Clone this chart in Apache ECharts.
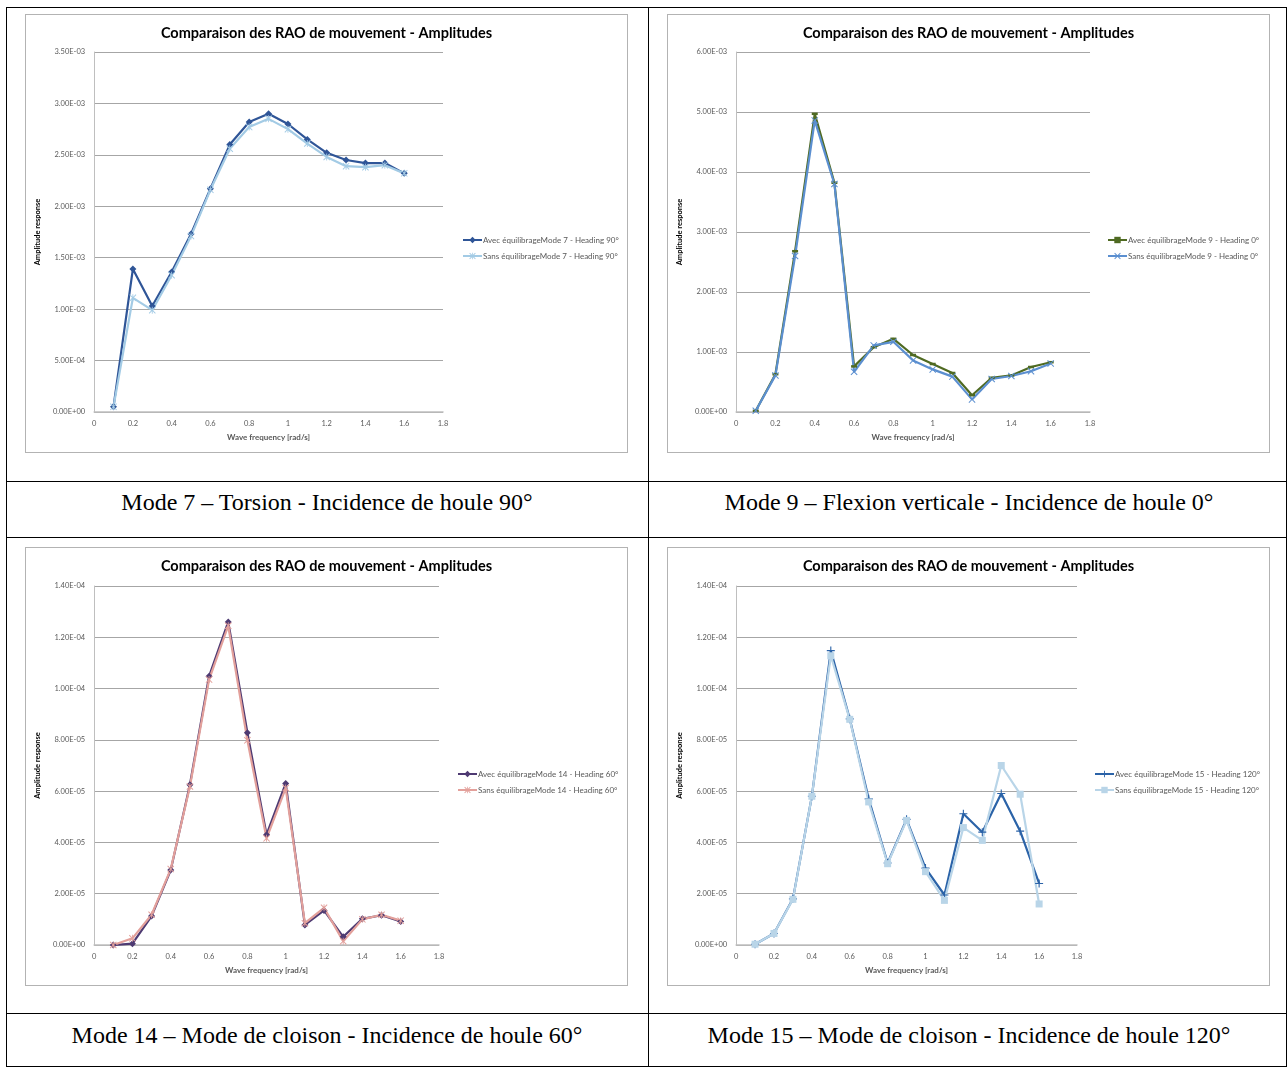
<!DOCTYPE html>
<html>
<head>
<meta charset="utf-8">
<script src="https://cdn.jsdelivr.net/npm/echarts@6/dist/echarts.min.js"></script>
<style>
  html, body { margin: 0; padding: 0; background: #fff; }
  #page { position: relative; width: 1288px; height: 1068px; }
  .ln { position: absolute; background: #000; }
  .box { position: absolute; width: 603px; height: 439px; border: 1px solid #b3b3b3; box-sizing: border-box; }
  .cap { position: absolute; width: 642px; text-align: center; font-family: "Liberation Serif", serif; font-size: 24px; color: #000; }
</style>
</head>
<body>
<div id="page">
  <div class="ln" style="left:6px;top:7px;width:1281px;height:1px"></div>
  <div class="ln" style="left:6px;top:481px;width:1281px;height:1px"></div>
  <div class="ln" style="left:6px;top:537px;width:1281px;height:1px"></div>
  <div class="ln" style="left:6px;top:1013px;width:1281px;height:1px"></div>
  <div class="ln" style="left:6px;top:1066px;width:1281px;height:1px"></div>
  <div class="ln" style="left:6px;top:7px;width:1px;height:1060px"></div>
  <div class="ln" style="left:648px;top:7px;width:1px;height:1060px"></div>
  <div class="ln" style="left:1286px;top:7px;width:1px;height:1060px"></div>

  <div id="c1" class="box" style="left:25px;top:14px"></div>
  <div id="c2" class="box" style="left:667px;top:14px"></div>
  <div id="c3" class="box" style="left:25px;top:547px"></div>
  <div id="c4" class="box" style="left:667px;top:547px"></div>

  <div class="cap" style="left:6px;top:489px">Mode 7 – Torsion - Incidence de houle 90°</div>
  <div class="cap" style="left:648px;top:489px">Mode 9 – Flexion verticale - Incidence de houle 0°</div>
  <div class="cap" style="left:6px;top:1022px">Mode 14 – Mode de cloison - Incidence de houle 60°</div>
  <div class="cap" style="left:648px;top:1022px">Mode 15 – Mode de cloison - Incidence de houle 120°</div>
</div>
<script>
// wave frequencies [rad/s]
const freq = [0.1, 0.2, 0.3, 0.4, 0.5, 0.6, 0.7, 0.8, 0.9, 1.0, 1.1, 1.2, 1.3, 1.4, 1.5, 1.6];

// Mode 7 - heading 90
const mode7Avec = [0.05e-3, 1.39e-3, 1.03e-3, 1.36e-3, 1.73e-3, 2.17e-3, 2.60e-3, 2.82e-3, 2.90e-3, 2.80e-3, 2.65e-3, 2.52e-3, 2.45e-3, 2.42e-3, 2.42e-3, 2.32e-3];
const mode7Sans = [0.05e-3, 1.11e-3, 0.99e-3, 1.33e-3, 1.71e-3, 2.16e-3, 2.56e-3, 2.77e-3, 2.85e-3, 2.75e-3, 2.61e-3, 2.48e-3, 2.39e-3, 2.38e-3, 2.40e-3, 2.32e-3];

// Mode 9 - heading 0
const mode9Avec = [0.02e-3, 0.63e-3, 2.68e-3, 4.97e-3, 3.82e-3, 0.76e-3, 1.08e-3, 1.22e-3, 0.95e-3, 0.80e-3, 0.65e-3, 0.28e-3, 0.57e-3, 0.61e-3, 0.75e-3, 0.83e-3];
const mode9Sans = [0.02e-3, 0.61e-3, 2.60e-3, 4.86e-3, 3.80e-3, 0.67e-3, 1.11e-3, 1.17e-3, 0.86e-3, 0.71e-3, 0.59e-3, 0.21e-3, 0.55e-3, 0.60e-3, 0.68e-3, 0.81e-3];

// Mode 14 - heading 60
const mode14Avec = [0.0, 0.05e-5, 1.13e-5, 2.92e-5, 6.25e-5, 10.48e-5, 12.60e-5, 8.28e-5, 4.30e-5, 6.30e-5, 0.78e-5, 1.35e-5, 0.32e-5, 1.02e-5, 1.16e-5, 0.92e-5];
const mode14Sans = [0.0, 0.26e-5, 1.18e-5, 2.96e-5, 6.18e-5, 10.35e-5, 12.45e-5, 7.98e-5, 4.16e-5, 6.12e-5, 0.85e-5, 1.45e-5, 0.15e-5, 1.00e-5, 1.18e-5, 0.95e-5];

// Mode 15 - heading 120
const mode15Avec = [0.03e-5, 0.45e-5, 1.80e-5, 5.80e-5, 11.48e-5, 8.82e-5, 5.70e-5, 3.20e-5, 4.90e-5, 3.00e-5, 1.95e-5, 5.12e-5, 4.40e-5, 5.91e-5, 4.44e-5, 2.40e-5];
const mode15Sans = [0.03e-5, 0.45e-5, 1.78e-5, 5.80e-5, 11.28e-5, 8.80e-5, 5.58e-5, 3.17e-5, 4.86e-5, 2.86e-5, 1.74e-5, 4.58e-5, 4.08e-5, 7.00e-5, 5.88e-5, 1.60e-5];

const FONT = 'Lato, "Open Sans", sans-serif';
const TXT = '#595959';

const SYM_X = 'path://M0,1 L1,0 L5,4 L9,0 L10,1 L6,5 L10,9 L9,10 L5,6 L1,10 L0,9 L4,5 Z';
const SYM_STAR = 'path://M0,1 L1,0 L5,4 L9,0 L10,1 L6,5 L10,9 L9,10 L5,6 L1,10 L0,9 L4,5 Z M4.4,0 L5.6,0 L5.6,10 L4.4,10 Z';
const SYM_PLUS = 'path://M4.3,0 L5.7,0 L5.7,4.3 L10,4.3 L10,5.7 L5.7,5.7 L5.7,10 L4.3,10 L4.3,5.7 L0,5.7 L0,4.3 L4.3,4.3 Z';
const SYM_DASH = 'path://M0,0 L10,0 L10,4 L0,4 Z';

function sci(v) {
  const s = v.toExponential(2).toUpperCase();
  const [m, e] = s.split('E');
  const n = parseInt(e, 10);
  return m + 'E' + (n < 0 ? '-' : '+') + String(Math.abs(n)).padStart(2, '0');
}

function pts(vals) { return freq.map((f, i) => [f, vals[i]]); }

function line(name, vals, color, symbol, size) {
  return {
    name, type: 'line', data: pts(vals),
    symbol, symbolSize: size, showSymbol: true,
    lineStyle: { color, width: 2.2 },
    itemStyle: { color },
    animation: false
  };
}

function makeChart(id, cfg) {
  const chart = echarts.init(document.getElementById(id));
  chart.setOption({
    animation: false,
    title: {
      text: 'Comparaison des RAO de mouvement - Amplitudes',
      left: 'center', top: 6,
      textStyle: { fontFamily: FONT, fontSize: 14.5, fontWeight: 'bold', color: '#000' }
    },
    grid: { left: 65, top: cfg.top, width: cfg.w, height: cfg.h },
    legend: {
      orient: 'vertical', left: cfg.legLeft, top: cfg.legTop,
      itemWidth: 19, itemHeight: 8, itemGap: 8,
      textStyle: { fontFamily: FONT, fontSize: 8, color: TXT, padding: [0, 0, 0, -4] },
      data: cfg.series.map(s => s.name)
    },
    xAxis: {
      type: 'value', min: 0, max: 1.8, interval: 0.2,
      name: 'Wave frequency [rad/s]', nameLocation: 'middle', nameGap: 21,
      nameTextStyle: { fontFamily: FONT, fontSize: 8, fontWeight: 'bold', color: TXT },
      axisLine: { lineStyle: { color: '#bfbfbf', width: 1.5 } },
      axisTick: { show: false },
      splitLine: { show: false },
      axisLabel: { fontFamily: FONT, fontSize: 7.5, color: TXT, margin: 8 }
    },
    yAxis: {
      type: 'value', min: 0, max: cfg.max, interval: cfg.step,
      name: 'Amplitude response', nameLocation: 'middle', nameGap: 45, nameRotate: 90,
      nameTextStyle: { fontFamily: FONT, fontSize: 7.5, fontWeight: 'bold', color: '#000' },
      axisLine: { show: true, lineStyle: { color: '#bfbfbf', width: 1 } },
      axisTick: { show: false },
      splitLine: { lineStyle: { color: '#a6a6a6', width: 1 } },
      axisLabel: { fontFamily: FONT, fontSize: 7.5, color: TXT, margin: 9, formatter: sci }
    },
    series: cfg.series
  });
  return chart;
}

makeChart('c1', {
  top: 37, w: 352, h: 360, max: 3.5e-3, step: 0.5e-3, legLeft: 431, legTop: 216,
  series: [
    line('Avec équilibrageMode 7 - Heading 90°', mode7Avec, '#2f5597', 'diamond', 7),
    line('Sans équilibrageMode 7 - Heading 90°', mode7Sans, '#a3cbe5', SYM_STAR, 7)
  ]
});

makeChart('c2', {
  top: 37, w: 357, h: 360, max: 6e-3, step: 1e-3, legLeft: 434, legTop: 216,
  series: [
    line('Avec équilibrageMode 9 - Heading 0°', mode9Avec, '#4f6a22', SYM_DASH, [6, 2.5]),
    line('Sans équilibrageMode 9 - Heading 0°', mode9Sans, '#5b8fd0', SYM_X, 7)
  ]
});

makeChart('c3', {
  top: 38, w: 348, h: 359, max: 1.4e-4, step: 2e-5, legLeft: 426, legTop: 217,
  series: [
    line('Avec équilibrageMode 14 - Heading 60°', mode14Avec, '#4e3a72', 'diamond', 7),
    line('Sans équilibrageMode 14 - Heading 60°', mode14Sans, '#e3a09b', SYM_STAR, 7)
  ]
});

makeChart('c4', {
  top: 38, w: 344, h: 359, max: 1.4e-4, step: 2e-5, legLeft: 421, legTop: 217,
  series: [
    line('Avec équilibrageMode 15 - Heading 120°', mode15Avec, '#2b63a8', SYM_PLUS, 8),
    line('Sans équilibrageMode 15 - Heading 120°', mode15Sans, '#b9d5e8', 'rect', 7)
  ]
});
</script>
</body>
</html>
